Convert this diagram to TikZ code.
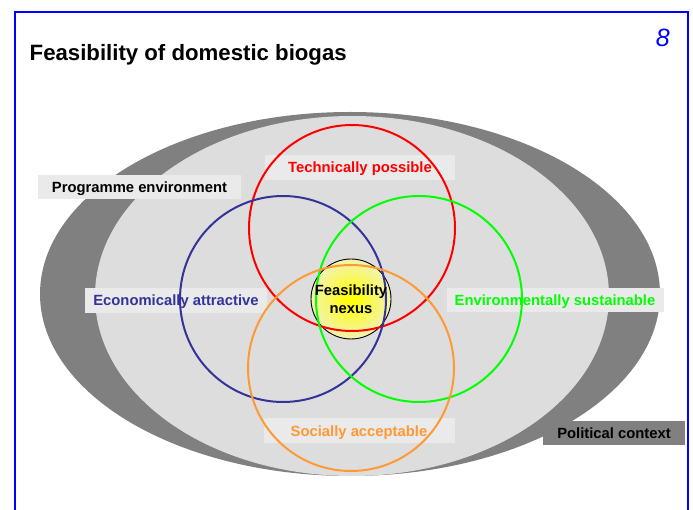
\documentclass[tikz,border=0pt]{standalone}
\usepackage{fontspec}
\setmainfont{Liberation Sans}
\definecolor{framecol}{HTML}{0000FF}
\definecolor{darkell}{HTML}{808080}
\definecolor{lightell}{HTML}{DDDDDD}
\definecolor{boxcol}{HTML}{EAEAEA}
\definecolor{tpcol}{HTML}{FF0000}
\definecolor{eacol}{HTML}{333399}
\definecolor{escol}{HTML}{00FF00}
\definecolor{sacol}{HTML}{FF9933}
\definecolor{nexedge}{HTML}{EEEEEA}
\definecolor{nexcore}{HTML}{FFFF00}
\pgfdeclareradialshading{nexglow}{\pgfpoint{0bp}{0bp}}{%
  color(0bp)=(nexcore); color(5bp)=(nexcore!90!nexedge);
  color(15bp)=(nexcore!55!nexedge); color(28bp)=(nexcore!15!nexedge);
  color(40bp)=(nexedge); color(50bp)=(nexedge)}
\tikzset{
  lblbox/.style={fill=boxcol, inner sep=0pt, minimum height=24.5pt},
  lbltext/.style={font=\fontsize{14.8}{16}\selectfont\bfseries, inner sep=0pt, anchor=base},
  ring/.style={line width=2pt},
}
\begin{document}
\begin{tikzpicture}[x=1pt,y=-1pt]
\useasboundingbox (0,0) rectangle (693,510);
\fill[white] (0,0) rectangle (693,510);
% frame
\draw[framecol, line width=2pt] (15,510) -- (15,12) -- (688,12) -- (688,510);
% title and page number
\node[anchor=base west, inner sep=0pt, font=\fontsize{22.2}{24}\selectfont\bfseries] (title) at (29.5,61) {Feasibility of domestic biogas};
\node[anchor=base east, inner sep=0pt, text=framecol, font=\fontsize{25}{27}\selectfont\itshape] (pagenum) at (670,47) {8};
% ellipses
\fill[darkell] (350,294) ellipse [x radius=310pt, y radius=182pt];
\fill[lightell] (352,296) ellipse [x radius=257pt, y radius=180pt];
% label boxes
\node[lblbox, minimum width=203pt] (pebox) at (139.5,187) {};
\node[lblbox, minimum width=190pt] (tpbox) at (360,167.5) {};
\node[lblbox, minimum width=182pt] (eabox) at (176,300.5) {};
\node[lblbox, minimum width=217pt] (esbox) at (555.5,300) {};
\node[lblbox, minimum width=191pt] (sabox) at (359.5,430.5) {};
\node[lblbox, fill=darkell, minimum width=142pt] (pcbox) at (614,433) {};
% nexus
\node[circle, minimum size=80pt, inner sep=0pt, draw=black, line width=0.9pt,
      shading=nexglow] (nexus) at (351,299) {};
% circles
\draw[ring, tpcol] (352,228) circle [radius=103pt];
\draw[ring, eacol] (283,299) circle [radius=103pt];
\draw[ring, escol] (419,299) circle [radius=103pt];
\draw[ring, sacol] (351,368) circle [radius=103pt];
% texts
\node[lbltext] (pe) at (139.5,192.5) {Programme environment};
\node[lbltext, text=tpcol] (tp) at (360,172.8) {Technically possible};
\node[lbltext, text=eacol] (ea) at (176,305.5) {Economically attractive};
\node[lbltext, text=escol] (es) at (555,305.2) {Environmentally sustainable};
\node[lbltext, text=sacol] (sa) at (359,436) {Socially acceptable};
\node[lbltext] (pc) at (614,438) {Political context};
\node[lbltext] (nx1) at (351,296) {Feasibility};
\node[lbltext] (nx2) at (351,313.5) {nexus};
\end{tikzpicture}
\end{document}
